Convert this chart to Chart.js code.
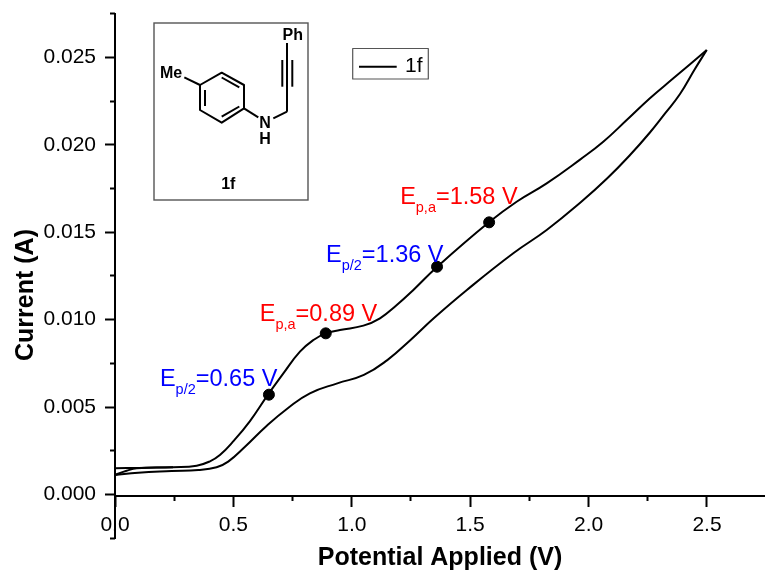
<!DOCTYPE html>
<html>
<head>
<meta charset="utf-8">
<title>1f</title>
<script src="https://cdn.jsdelivr.net/npm/chart.js@4"></script>
<style>
  body { margin: 0; background: #fff; }
  canvas { display: block; }
</style>
</head>
<body>
<canvas id="cvChart" width="765" height="570"></canvas>
<script>
// values
const forwardV = [0, 0.049, 0.092, 0.245, 0.345, 0.401, 0.443, 0.498, 0.57, 0.646, 0.711, 0.781, 0.838, 0.89, 0.95, 1.049, 1.119, 1.19, 1.26, 1.361, 1.579, 1.696, 1.823, 1.964, 2.062, 2.161, 2.259, 2.358, 2.499];
const forwardI = [0.00112, 0.00136, 0.0015, 0.00156, 0.00165, 0.0019, 0.00226, 0.00302, 0.0042, 0.00571, 0.00693, 0.00817, 0.00884, 0.00922, 0.00941, 0.00966, 0.01008, 0.01084, 0.0117, 0.01303, 0.01557, 0.01675, 0.0178, 0.01916, 0.02018, 0.02142, 0.02267, 0.02381, 0.02543];
const returnV = [2.499, 2.449, 2.386, 2.323, 2.259, 2.175, 2.079, 1.968, 1.823, 1.682, 1.486, 1.346, 1.248, 1.15, 1.051, 0.939, 0.823, 0.731, 0.64, 0.549, 0.478, 0.429, 0.352, 0.239, 0.098, 0];
const returnI = [0.02543, 0.02434, 0.02291, 0.0218, 0.02071, 0.01942, 0.01809, 0.01673, 0.01513, 0.0138, 0.0117, 0.01008, 0.00884, 0.00769, 0.00684, 0.00636, 0.00579, 0.00495, 0.00392, 0.00273, 0.00188, 0.00156, 0.0014, 0.00134, 0.00125, 0.00112];
// short piece at the start of the sweep
const startV = [0, 0.1, 0.245];
const startI = [0.0015, 0.00152, 0.00156];

const peakV = [0.65, 0.89, 1.36, 1.58];
const peakI = [0.00571, 0.00922, 0.01303, 0.01557];
const peakSub = ["p/2", "p,a", "p/2", "p,a"];
const peakText = ["=0.65 V", "=0.89 V", "=1.36 V", "=1.58 V"];
const peakColor = ["#0000ff", "#ff0000", "#0000ff", "#ff0000"];
const peakDx = [-109, -66, -111, -89];
const peakDy = [-9, -12, -5, -18];

const xTicks = [0, 0.5, 1, 1.5, 2, 2.5];
const yTicks = [0, 0.005, 0.01, 0.015, 0.02, 0.025];
const xMinorTicks = [0.25, 0.75, 1.25, 1.75, 2.25];
const yMinorTicks = [-0.0025, 0.0025, 0.0075, 0.0125, 0.0175, 0.0225, 0.0275];

const seriesName = "1f";
const xTitle = "Potential Applied (V)";
const yTitle = "Current (A)";
const FONT = '"Liberation Sans", Arial, sans-serif';

function toPoints(xs, ys) {
  return xs.map((x, i) => ({ x: x, y: ys[i] }));
}

function useTicks(values) {
  return function (axis) {
    axis.ticks = values.map((v) => ({ value: v }));
  };
}

// the labels should not push the plot area in
function noPadding(axis) {
  axis.paddingLeft = axis.paddingRight = axis.paddingTop = axis.paddingBottom = 0;
}

function minorAxis(axisType, values, pos) {
  return {
    type: "linear",
    axis: axisType,
    position: pos,
    min: axisType === "x" ? 0 : -0.0025,
    max: axisType === "x" ? 2.745 : 0.0275,
    afterBuildTicks: useTicks(values),
    afterFit: noPadding,
    border: { display: false },
    grid: { drawOnChartArea: false, tickLength: 5, tickWidth: 2, tickColor: "#000" },
    ticks: { display: false, autoSkip: false },
  };
}

// inset with the structure of 1f, the legend box and the peak labels
function drawLine(c, x1, y1, x2, y2) {
  c.beginPath();
  c.moveTo(x1, y1);
  c.lineTo(x2, y2);
  c.stroke();
}

function drawMolecule(c) {
  c.strokeStyle = "#555";
  c.lineWidth = 1.4;
  c.strokeRect(154, 23, 154, 177);

  c.strokeStyle = "#000";
  c.lineWidth = 2;
  c.lineJoin = "round";
  const ring = [[244, 108.3], [244, 85], [221.7, 72.7], [200, 85], [200, 110], [221.7, 122.7]];
  c.beginPath();
  ring.forEach((p, i) => (i ? c.lineTo(p[0], p[1]) : c.moveTo(p[0], p[1])));
  c.closePath();
  c.stroke();
  drawLine(c, 239.3, 87.3, 221.7, 77.5);
  drawLine(c, 205, 90, 205, 106);
  drawLine(c, 221.7, 116.7, 239.3, 106.5);
  drawLine(c, 184.3, 77.3, 200, 85);
  drawLine(c, 244, 108.3, 258.3, 117.3);
  drawLine(c, 273.3, 118.3, 287, 111.7);
  drawLine(c, 287, 111.7, 287, 43);
  drawLine(c, 282.3, 60, 282.3, 86.7);
  drawLine(c, 292.3, 60, 292.3, 86.7);

  c.fillStyle = "#000";
  c.font = "bold 16px " + FONT;
  c.textAlign = "center";
  c.textBaseline = "middle";
  c.fillText("Ph", 292.7, 35.5);
  c.fillText("Me", 171, 73.5);
  c.fillText("N", 265, 124);
  c.fillText("H", 265, 139.5);
  c.fillText("1f", 228.3, 184.5);
}

function drawLegend(c) {
  c.strokeStyle = "#555";
  c.lineWidth = 1.2;
  c.strokeRect(352.7, 48.5, 75.6, 30.5);
  c.strokeStyle = "#000";
  c.lineWidth = 2;
  drawLine(c, 359, 66.7, 396.7, 66.7);
  c.fillStyle = "#000";
  c.font = "21px " + FONT;
  c.textAlign = "left";
  c.textBaseline = "alphabetic";
  c.fillText(seriesName, 405, 72);
}

function drawPeakLabels(chart, c) {
  const sx = chart.scales.x;
  const sy = chart.scales.y;
  c.textAlign = "left";
  c.textBaseline = "alphabetic";
  peakV.forEach((v, i) => {
    let x = sx.getPixelForValue(v) + peakDx[i];
    const y = sy.getPixelForValue(peakI[i]) + peakDy[i];
    c.fillStyle = peakColor[i];
    c.font = "23.5px " + FONT;
    c.fillText("E", x, y);
    x += c.measureText("E").width;
    c.font = "14.5px " + FONT;
    c.fillText(peakSub[i], x, y + 8);
    x += c.measureText(peakSub[i]).width;
    c.font = "23.5px " + FONT;
    c.fillText(peakText[i], x, y);
  });
}

const overlay = {
  id: "overlay",
  afterDraw(chart) {
    const c = chart.ctx;
    c.save();
    drawMolecule(c);
    drawLegend(c);
    drawPeakLabels(chart, c);
    // y title sits lower than the middle of the axis
    c.translate(26, 295);
    c.rotate(-Math.PI / 2);
    c.fillStyle = "#000";
    c.font = "bold 25px " + FONT;
    c.textAlign = "center";
    c.textBaseline = "middle";
    c.fillText(yTitle, 0, 0);
    c.restore();
  },
};

const lineStyle = { showLine: true, tension: 0.45, borderColor: "#000", borderWidth: 2, pointRadius: 0 };

const ctx = document.getElementById("cvChart").getContext("2d");
const cvChart = new Chart(ctx, {
  type: "scatter",
  data: {
    datasets: [
      { label: "forward", data: toPoints(forwardV, forwardI), ...lineStyle },
      { label: "return", data: toPoints(returnV, returnI), ...lineStyle },
      { label: "start", data: toPoints(startV, startI), ...lineStyle },
      { label: "peaks", data: toPoints(peakV, peakI), showLine: false, backgroundColor: "#000", borderColor: "#000", pointRadius: 5.5 },
    ],
  },
  plugins: [overlay],
  options: {
    responsive: false,
    animation: false,
    layout: { autoPadding: false, padding: { left: 0, top: 13.8, right: 0, bottom: 31.8 } },
    plugins: { legend: { display: false }, tooltip: { enabled: false } },
    scales: {
      x: {
        type: "linear",
        position: { y: -0.0001 },
        min: 0,
        max: 2.745,
        afterBuildTicks: useTicks(xTicks),
        afterFit: noPadding,
        border: { display: true, color: "#000", width: 2 },
        grid: { drawOnChartArea: false, tickLength: 10, tickWidth: 2, tickColor: "#000" },
        ticks: {
          autoSkip: false,
          maxRotation: 0,
          padding: 6,
          color: "#000",
          font: { family: FONT, size: 21 },
          callback: (v) => v.toFixed(1),
        },
        title: {
          display: true,
          text: xTitle,
          color: "#000",
          font: { family: FONT, size: 25, weight: "bold" },
          padding: { top: 0, bottom: 0 },
        },
      },
      y: {
        type: "linear",
        position: "left",
        min: -0.0025,
        max: 0.0275,
        afterBuildTicks: useTicks(yTicks),
        afterFit(axis) {
          noPadding(axis);
          axis.width = 115;
        },
        border: { display: true, color: "#000", width: 2 },
        grid: { drawOnChartArea: false, tickLength: 10, tickWidth: 2, tickColor: "#000" },
        ticks: {
          autoSkip: false,
          padding: 9,
          color: "#000",
          font: { family: FONT, size: 21 },
          callback: (v) => v.toFixed(3),
        },
      },
      xMinor: minorAxis("x", xMinorTicks, { y: -0.0001 }),
      yMinor: minorAxis("y", yMinorTicks, { x: 0 }),
    },
  },
});
</script>
</body>
</html>
